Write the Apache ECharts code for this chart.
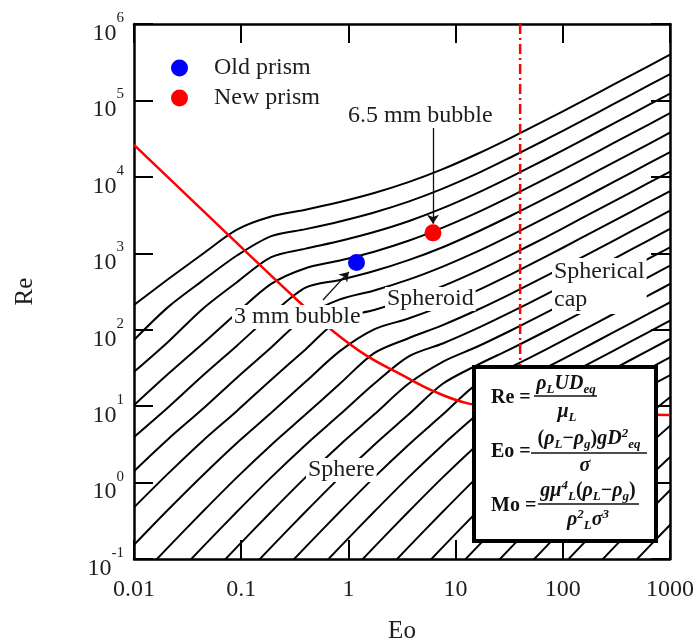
<!DOCTYPE html>
<html><head><meta charset="utf-8">
<script src="https://cdn.jsdelivr.net/npm/echarts@6/dist/echarts.min.js"></script>
<style>html,body{margin:0;padding:0;background:#fff}#c{width:697px;height:641px}</style>
</head><body><div id="c"></div>
<script>
// ---------- DATA ----------
const xTickLabels = ['0.01', '0.1', '1', '10', '100', '1000'];
const yTickExponents = ['-1', '0', '1', '2', '3', '4', '5', '6'];

// Eo sample positions shared by every constant-Mo curve
const eoGrid = [0.01, 0.02089, 0.04365, 0.0912, 0.1905, 0.3981, 0.8318, 1.738, 3.631, 7.586, 15.85, 33.11, 69.18, 144.5, 302.0, 631.0, 1318];

// Re along each constant-Mo curve (log Mo = -14 ... 8), aligned with eoGrid
const mo_m14 = [211, 460, 980, 2040, 3030, 3720, 4690, 6150, 8530, 12600, 19900, 32700, 55100, 94500, 163000, 282000, 490000];
const mo_m13 = [73.5, 199, 439, 935, 1680, 2070, 2610, 3420, 4740, 7010, 11000, 18200, 30600, 52500, 90600, 157000, 272000];
const mo_m12 = [28.1, 69.8, 187, 418, 891, 1150, 1450, 1900, 2630, 3900, 6140, 10100, 17000, 29200, 50400, 87300, 151000];
const mo_m11 = [10.3, 26.5, 65.6, 166, 398, 638, 805, 1050, 1460, 2170, 3410, 5610, 9460, 16200, 28000, 48400, 84100];
const mo_m10 = [3.94, 9.68, 25.0, 61.9, 157, 355, 448, 586, 813, 1200, 1900, 3120, 5260, 9020, 15600, 26900, 46800];
const mo_m9  = [1.41, 3.72, 9.16, 23.6, 58.6, 148, 249, 326, 452, 670, 1050, 1730, 2920, 5010, 8650, 15000, 25900];
const mo_m8  = [0.474, 1.32, 3.51, 8.67, 22.2, 55.3, 138, 181, 251, 372, 585, 962, 1620, 2790, 4810, 8320, 14400];
const mo_m7  = [0.153, 0.444, 1.24, 3.30, 8.18, 20.8, 52.4, 101, 140, 207, 325, 535, 902, 1550, 2670, 4620, 8020];
const mo_m6  = [0.0483, 0.143, 0.415, 1.17, 3.11, 7.75, 19.6, 49.4, 77.4, 115, 181, 297, 501, 859, 1480, 2560, 4460];
const mo_m5  = [null, 0.0483, 0.143, 0.415, 1.17, 3.11, 7.75, 19.6, 44.6, 66.1, 104, 171, 288, 494, 853, 1480, 2560];
const mo_m4  = [null, null, 0.0483, 0.143, 0.415, 1.17, 3.11, 7.75, 19.6, 38.0, 59.8, 98.4, 166, 284, 491, 849, 1470];
const mo_m3  = [null, null, null, 0.0483, 0.143, 0.415, 1.17, 3.11, 7.75, 19.6, 34.4, 56.6, 95.5, 164, 282, 489, 848];
const mo_m2  = [null, null, null, null, 0.0483, 0.143, 0.415, 1.17, 3.11, 7.75, 19.6, 32.6, 55.0, 94.2, 163, 281, 488];
const mo_m1  = [null, null, null, null, null, 0.0483, 0.143, 0.415, 1.17, 3.11, 7.75, 18.7, 31.6, 54.2, 93.5, 162, 281];
const mo_0   = [null, null, null, null, null, null, 0.0483, 0.143, 0.415, 1.17, 3.11, 7.75, 18.2, 31.2, 53.8, 93.1, 162];
const mo_p1  = [null, null, null, null, null, null, null, 0.0483, 0.143, 0.415, 1.17, 3.11, 7.75, 17.9, 31.0, 53.6, 93.0];
const mo_p2  = [null, null, null, null, null, null, null, null, 0.0483, 0.143, 0.415, 1.17, 3.11, 7.75, 17.8, 30.8, 53.5];
const mo_p3  = [null, null, null, null, null, null, null, null, null, 0.0483, 0.143, 0.415, 1.17, 3.11, 7.75, 17.7, 30.8];
const mo_p4  = [null, null, null, null, null, null, null, null, null, null, 0.0483, 0.143, 0.415, 1.17, 3.11, 7.75, 17.7];
const mo_p5  = [null, null, null, null, null, null, null, null, null, null, null, 0.0483, 0.143, 0.415, 1.17, 3.11, 7.75];
const mo_p6  = [null, null, null, null, null, null, null, null, null, null, null, null, 0.0483, 0.143, 0.415, 1.17, 3.11];
const mo_p7  = [null, null, null, null, null, null, null, null, null, null, null, null, null, 0.0483, 0.143, 0.415, 1.17];
const mo_p8  = [null, null, null, null, null, null, null, null, null, null, null, null, null, null, 0.0483, 0.143, 0.415];

// red solid boundary curve
const boundaryEo = [0.01, 0.0413, 0.332, 0.735, 1.49, 3.03, 6.15, 13.6, 40, 222, 1000];
const boundaryRe = [26200, 3930, 245, 93.5, 45.4, 26.4, 15.8, 10.7, 9.2, 8.1, 7.67];

// red dash-dot vertical line (Eo = 40)
const capLineEo = [40, 40];
const capLineRe = [1000000, 20];

// bubbles
const oldPrism = [[1.19, 755]];
const newPrism = [[6.15, 1850]];

// annotation arrows [from, to] in data coordinates
const arrow65 = [[6.15, 43700], [6.15, 2430]];
const arrow3 = [[0.579, 245], [1.01, 571]];

// ---------- CHART ----------
const SERIF = '"Liberation Serif", "DejaVu Serif", serif';
const TXT = '#1e1e1e';
const moCurves = [mo_m14, mo_m13, mo_m12, mo_m11, mo_m10, mo_m9, mo_m8, mo_m7, mo_m6, mo_m5, mo_m4, mo_m3,
  mo_m2, mo_m1, mo_0, mo_p1, mo_p2, mo_p3, mo_p4, mo_p5, mo_p6, mo_p7, mo_p8];

const chart = echarts.init(document.getElementById('c'), null, {renderer: 'canvas'});

const axisLine = {show: true, onZero: false, lineStyle: {color: '#000', width: 2.5}};
const axisTick = {show: true, inside: true, length: 19, lineStyle: {color: '#000', width: 2}};

const series = [];
moCurves.forEach((arr, i) => {
  series.push({
    type: 'line', name: 'logMo ' + (i - 14), silent: true, animation: false,
    data: eoGrid.map((e, j) => [e, arr[j]]).filter(p => p[1] != null),
    symbol: 'none', smooth: 0.3, clip: true, z: 2,
    lineStyle: {color: '#000', width: 2}
  });
});
series.push({
  type: 'line', name: 'boundary', silent: true, animation: false, symbol: 'none', smooth: 0.4, clip: true, z: 3,
  data: boundaryEo.map((e, i) => [e, boundaryRe[i]]),
  lineStyle: {color: '#ff0000', width: 2.5}
});
series.push({
  type: 'line', name: 'cap', silent: true, animation: false, symbol: 'none', clip: true, z: 3,
  data: capLineEo.map((e, i) => [e, capLineRe[i]]),
  lineStyle: {color: '#ff0000', width: 2.5, type: [10, 4, 2, 4]}
});
series.push({
  type: 'line', name: 'arrows', data: [], silent: true, animation: false, z: 4,
  markLine: {
    silent: true, animation: false, symbol: ['none', 'arrow'], symbolSize: 9,
    label: {show: false},
    lineStyle: {color: '#111', width: 1.3, type: 'solid'},
    data: [
      [{coord: arrow65[0]}, {coord: arrow65[1]}],
      [{coord: arrow3[0]}, {coord: arrow3[1]}]
    ]
  }
});
series.push({type: 'scatter', name: 'Old prism', data: oldPrism, symbolSize: 17, itemStyle: {color: '#0000ff', opacity: 1}, z: 5, animation: false});
series.push({type: 'scatter', name: 'New prism', data: newPrism, symbolSize: 17, itemStyle: {color: '#ff0000', opacity: 1}, z: 5, animation: false});

function label(text, x, y, extra) {
  return Object.assign({
    type: 'text', x: x, y: y, z: 100, silent: true,
    style: Object.assign({
      text: text, fontFamily: SERIF, fontSize: 24, fill: TXT,
      backgroundColor: '#fff', padding: [0, 2], align: 'left', verticalAlign: 'middle'
    }, extra || {})
  });
}
const fRich = {
  i: {fontFamily: SERIF, fontSize: 20, fontStyle: 'italic', fontWeight: 'bold', lineHeight: 24, fill: '#111'},
  n: {fontFamily: SERIF, fontSize: 20, fontWeight: 'bold', lineHeight: 24, fill: '#111'},
  sb: {fontFamily: SERIF, fontSize: 13, fontStyle: 'italic', fontWeight: 'bold', verticalAlign: 'bottom', fill: '#111'},
  sp: {fontFamily: SERIF, fontSize: 13, fontStyle: 'italic', fontWeight: 'bold', verticalAlign: 'top', fill: '#111'}
};
function ftext(text, x, y, align) {
  return {type: 'text', x: x, y: y, z: 102, silent: true,
    style: {text: text, rich: fRich, align: align || 'center', verticalAlign: 'middle'}};
}
function bar(x1, x2, y) {
  return {type: 'line', z: 102, silent: true, shape: {x1: x1, y1: y, x2: x2, y2: y}, style: {stroke: '#111', lineWidth: 1.6}};
}

const graphics = [
  label('6.5 mm bubble', 346, 116),
  label('3 mm bubble', 232, 317),
  label('Spheroid', 385, 299),
  label('Spherical\ncap', 552, 258, {verticalAlign: 'top', lineHeight: 28}),
  label('Sphere', 306, 470),
  {type: 'rect', z: 101, silent: true, shape: {x: 474, y: 367, width: 182, height: 174},
    style: {fill: '#fff', stroke: '#000', lineWidth: 4}},
  ftext('{n|Re =}', 491, 398, 'left'),
  ftext('{i|ρ}{sb|L}{i|UD}{sb|eq}', 566, 384),
  bar(534, 597, 396),
  ftext('{i|μ}{sb|L}', 567, 412),
  ftext('{n|Eo =}', 491, 452, 'left'),
  ftext('{n|(}{i|ρ}{sb|L}{n|−}{i|ρ}{sb|g}{n|)}{i|gD}{sp|2}{sb|eq}', 589, 439),
  bar(531, 647, 453),
  ftext('{i|σ}', 585, 466),
  ftext('{n|Mo =}', 491, 506, 'left'),
  ftext('{i|gμ}{sp|4}{sb|L}{n|(}{i|ρ}{sb|L}{n|−}{i|ρ}{sb|g}{n|)}', 588, 491),
  bar(538, 639, 504),
  ftext('{i|ρ}{sp|2}{sb|L}{i|σ}{sp|3}', 588, 520)
];

chart.setOption({
  animation: false,
  backgroundColor: '#fff',
  grid: {left: 134, right: 27, top: 24, bottom: 82, containLabel: false, outerBoundsMode: 'none'},
  legend: {
    data: ['Old prism', 'New prism'], orient: 'vertical', left: 171, top: 56, padding: 0,
    itemWidth: 17, itemHeight: 17, itemGap: 6, icon: 'circle', selectedMode: false,
    textStyle: {fontFamily: SERIF, fontSize: 24, color: TXT, lineHeight: 24, padding: [0, 0, 0, 21]}
  },
  xAxis: [
    {type: 'log', logBase: 10, min: 0.01, max: 1000, interval: 1, position: 'bottom',
      axisLine: axisLine, axisTick: axisTick, splitLine: {show: false}, minorTick: {show: false},
      axisLabel: {margin: 19, fontFamily: SERIF, fontSize: 24, color: TXT,
        formatter: v => xTickLabels[Math.round(Math.log10(v)) + 2]},
      name: 'Eo', nameLocation: 'middle', nameGap: 60,
      nameTextStyle: {fontFamily: SERIF, fontSize: 25, color: TXT}},
    {type: 'log', logBase: 10, min: 0.01, max: 1000, interval: 1, position: 'top',
      axisLine: axisLine, axisTick: axisTick, splitLine: {show: false}, axisLabel: {show: false}}
  ],
  yAxis: [
    {type: 'log', logBase: 10, min: 0.1, max: 1000000, interval: 1, position: 'left',
      axisLine: axisLine, axisTick: axisTick, splitLine: {show: false}, minorTick: {show: false},
      axisLabel: {margin: 10, padding: [8, 0, 0, 0],
        formatter: v => '{b|10}{s|' + yTickExponents[Math.round(Math.log10(v)) + 1] + '}',
        rich: {
          b: {fontFamily: SERIF, fontSize: 24, lineHeight: 35, verticalAlign: 'bottom', color: TXT},
          s: {fontFamily: SERIF, fontSize: 15, verticalAlign: 'top', color: TXT}
        }},
      name: 'Re', nameLocation: 'middle', nameGap: 96, nameRotate: 90,
      nameTextStyle: {fontFamily: SERIF, fontSize: 25, color: TXT}},
    {type: 'log', logBase: 10, min: 0.1, max: 1000000, interval: 1, position: 'right',
      axisLine: axisLine, axisTick: axisTick, splitLine: {show: false}, axisLabel: {show: false}}
  ],
  series: series,
  graphic: graphics
});
</script></body></html>
